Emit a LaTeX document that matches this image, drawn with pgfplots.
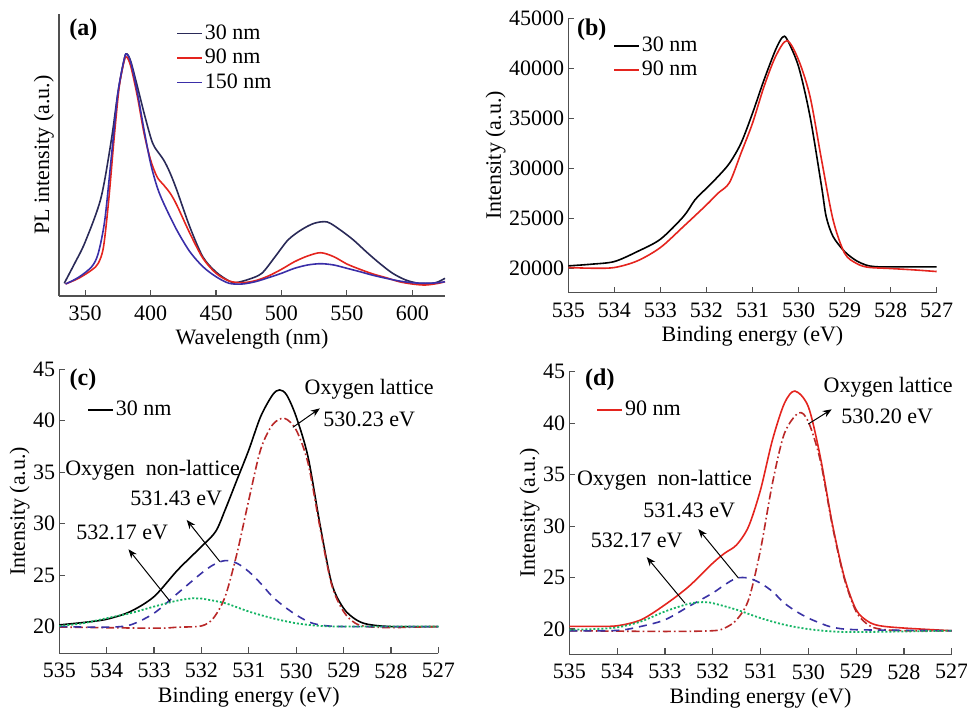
\documentclass[border=0pt]{standalone}
\usepackage{fontspec}
\setmainfont{Liberation Serif}
\usepackage{pgfplots}
\pgfplotsset{compat=1.18}
\usetikzlibrary{arrows.meta}

\definecolor{axgray}{RGB}{80,80,80}
\definecolor{navy30}{RGB}{42,42,88}
\definecolor{red90}{RGB}{228,36,30}
\definecolor{blue150}{RGB}{58,46,168}
\definecolor{fitred}{RGB}{185,40,40}
\definecolor{fitblue}{RGB}{58,50,165}
\definecolor{fitgreen}{RGB}{20,180,100}

\newcommand{\lbl}{\fontsize{11}{12}\selectfont}

\pgfplotsset{
  panel/.style={
    scale only axis, anchor=south west,
    axis x line*=bottom, axis y line*=left,
    axis line style={axgray, line width=0.7pt, -},
    tick style={axgray, line width=0.6pt},
    tick align=inside, major tick length=3pt,
    tick label style={font=\lbl},
    label style={font=\lbl},
    xticklabel style={yshift=-1.5pt},
    yticklabel style={xshift=1.5pt},
    xlabel shift=-2.5pt,
    /pgf/number format/assume math mode=true,
    /pgf/number format/1000 sep={},
    scaled ticks=false,
    clip=false,
    legend cell align=left,
    legend style={draw=none, fill=none, font=\lbl, inner sep=0pt, anchor=north west,
      nodes={inner sep=1pt, text height=8pt, text depth=2.2pt}},
    legend image code/.code={\draw[#1] (0pt,0pt) -- (12.5pt,0pt);},
  },
  xps/.style={panel, x dir=reverse, xmin=527, xmax=535, xtick={527,...,535},
    ylabel shift=-5pt,
    xlabel={Binding energy (eV)}, ylabel={Intensity (a.u.)}},
}

\begin{document}
\begin{tikzpicture}
\useasboundingbox (0,0) rectangle (483.5pt,353.5pt);

% (a) PL spectra
\begin{axis}[panel, at={(29.5pt,205.5pt)}, width=193pt, height=141pt,
  xmin=330, xmax=625, ymin=0, ymax=282, xtick={350,400,...,600}, ytick=\empty,
  ylabel shift=-1pt,
  xlabel={Wavelength (nm)}, ylabel={PL intensity (a.u.)},
  legend style={at={(0.303,0.975)}}]
\addplot[navy30, line width=0.8pt, smooth] coordinates {
(334,12.7)(342,32.7)(350,54)(362,97.7)(370,156)(375,203)(380,237.7)(382,242)(385,234)
(390,209)(395,183)(400,159)(403,149)(410,136)(415,122.7)(420,106)(430,69)(440,39)
(450,24)(460,15)(465,13.3)(475,16.7)(485,22.7)(495,39)(505,56)(515,66)(525,72.7)
(535,74)(545,66)(555,56)(565,44)(575,32.7)(585,22.7)(595,16)(605,12.7)(615,12.7)
(620,14.3)(625,17.7)};
\addlegendentry{30 nm}
\addplot[red90, line width=0.8pt, smooth] coordinates {
(335,12)(345,17.7)(355,26)(360,32.7)(364,49)(368,96)(372,156)(376,209)(380,236)
(382,238.7)(385,229)(390,199)(395,162.7)(400,136)(405,119)(410,111)(415,102.7)
(420,91)(430,62.7)(440,37.7)(450,22.7)(460,15)(470,13.3)(480,15.3)(490,20)
(500,26.7)(510,34.3)(520,40)(530,43.3)(540,39.3)(550,32)(560,26.7)(570,22)
(580,18.3)(590,14.3)(600,12)(610,11)(620,12.7)(625,14.3)};
\addlegendentry{90 nm}
\addplot[blue150, line width=0.8pt, smooth] coordinates {
(335,12)(345,18.7)(355,29.3)(360,42.7)(365,76)(370,139)(375,202.7)(380,237.7)
(382,241.7)(385,232.7)(390,202.7)(395,166)(400,132.7)(405,109)(410,92.7)(420,66)
(430,44.3)(440,29.3)(450,19.3)(460,12.7)(470,12)(480,14.3)(490,18.3)(500,22.7)
(510,27.7)(520,31)(530,32.3)(540,31)(550,27.7)(560,24.3)(570,20.7)(580,17.7)
(590,15)(600,13.3)(610,12.7)(620,13.3)(625,14.3)};
\addlegendentry{150 nm}
\node[font=\bfseries\fontsize{12}{13}\selectfont] at (axis cs:348.7,266) {(a)};
\end{axis}

% (b) XPS O1s
\begin{axis}[xps, at={(284.15pt,207.15pt)}, width=184.2pt, height=137.2pt,
  ymin=17550, ymax=45000, ytick={20000,25000,...,45000},
  legend style={at={(0.121,0.946)}}]
\addplot[black, line width=0.8pt, smooth] coordinates {
(535,20233)(534.5,20400)(534,20667)(533.5,21667)(533,22900)(532.5,25167)
(532.25,26833)(532,28000)(531.75,29167)(531.5,30500)(531.25,32500)(531,35500)
(530.75,38833)(530.5,41833)(530.35,43100)(530.25,42900)(530,40167)(529.75,35167)
(529.5,28167)(529.4,25167)(529.25,23167)(529,21667)(528.75,20767)(528.5,20267)
(528.25,20133)(528,20133)(527,20133)};
\addlegendentry{30 nm}
\addplot[red90, line width=0.8pt, smooth] coordinates {
(535,20067)(534.5,20000)(534,20067)(533.5,20733)(533,22067)(532.5,24167)
(532,26333)(531.75,27500)(531.5,28567)(531.25,31500)(531,34500)(530.75,38167)
(530.5,41167)(530.25,42767)(530,40833)(529.75,37167)(529.5,30833)(529.25,24833)
(529,21500)(528.75,20500)(528.5,20100)(528,19967)(527.5,19833)(527,19667)};
\addlegendentry{90 nm}
\node[font=\bfseries\fontsize{12}{13}\selectfont] at (axis cs:534.49,43830) {(b)};
\end{axis}

% (c) 30 nm fit
\begin{axis}[xps, at={(29.65pt,26.85pt)}, width=189.5pt, height=142pt,
  ymin=17.4, ymax=45, ytick={20,25,...,45},
  legend style={at={(0.073,0.902)}}]
\addplot[black, line width=0.8pt, smooth] coordinates {
(535,20.16)(534.5,20.39)(534,20.71)(533.5,21.46)(533,22.91)(532.5,25.5)(532,27.77)
(531.7,29.23)(531.5,31.33)(531.25,34.25)(531,37.16)(530.75,40.4)(530.5,42.5)
(530.35,43.0)(530.2,42.5)(530,40.4)(529.75,36.5)(529.5,30.0)(529.25,24.2)
(529,21.78)(528.75,20.71)(528.5,20.23)(528,20)(527,20)};
\addlegendentry{30 nm}
\addplot[fitred, line width=0.8pt, smooth, dash pattern=on 4pt off 1.5pt on 0.8pt off 1.5pt] coordinates {
(535,19.95)(533,19.84)(532.5,19.94)(532,20.06)(531.75,20.8)(531.5,22.9)(531.25,27.1)
(531,32.3)(530.75,37.2)(530.5,39.6)(530.25,40.24)(530,39.1)(529.75,35.9)(529.5,29.7)
(529.25,24.05)(529,21.46)(528.75,20.32)(528.5,20)(528,19.9)(527,20)};
\addplot[fitblue, line width=0.8pt, smooth, dash pattern=on 4pt off 3pt] coordinates {
(535,20)(534,19.94)(533.5,20.16)(533,21.3)(532.5,23.24)(532,25.18)(531.75,25.99)
(531.5,26.41)(531.25,26.15)(531,25.34)(530.75,24.2)(530.5,22.9)(530.25,21.94)
(530,21.13)(529.75,20.49)(529.5,20.16)(529,20)(527,20)};
\addplot[fitgreen, line width=0.9pt, smooth, dash pattern=on 1pt off 1pt] coordinates {
(535,20.06)(534.5,20.32)(534,20.81)(533.5,21.3)(533,21.94)(532.5,22.53)(532.17,22.75)
(532,22.72)(531.5,22.27)(531,21.46)(530.5,20.81)(530,20.32)(529.5,20.06)(529,20)(527,20)};
\node[font=\bfseries\fontsize{12}{13}\selectfont] at (axis cs:534.5,43.95) {(c)};
\node[font=\lbl] at (axis cs:528.46,43.08) {Oxygen lattice};
\node[font=\lbl] at (axis cs:528.46,40.17) {530.23 eV};
\node[font=\lbl] at (axis cs:533.03,35.21) {Oxygen~~non-lattice};
\node[font=\lbl] at (axis cs:532.53,32.5) {531.43 eV};
\node[font=\lbl] at (axis cs:533.67,29.13) {532.17 eV};
\draw[-{Stealth[length=4.5pt,width=3.5pt]}, line width=0.5pt] (axis cs:530.07,39.36) -- (axis cs:529.50,41.2);
\draw[-{Stealth[length=4.5pt,width=3.5pt]}, line width=0.5pt] (axis cs:531.61,26.31) -- (axis cs:532.31,30.36);
\draw[-{Stealth[length=4.5pt,width=3.5pt]}, line width=0.5pt] (axis cs:532.66,22.43) -- (axis cs:533.54,27.51);
\end{axis}

% (d) 90 nm fit
\begin{axis}[xps, at={(284.65pt,26.35pt)}, width=191.2pt, height=141.3pt,
  ymin=17.55, ymax=45, ytick={20,25,...,45},
  legend style={at={(0.07,0.91)}}]
\addplot[red90, line width=0.8pt, smooth] coordinates {
(535,20.26)(534.5,20.26)(534,20.32)(533.5,20.9)(533,22.36)(532.5,24.14)(532,26.4)
(531.75,27.37)(531.5,28.18)(531.25,29.96)(531,33.52)(530.75,38.37)(530.5,41.93)
(530.28,43.12)(530,41.6)(529.75,36.75)(529.5,30.28)(529.25,25.1)(529,21.88)
(528.75,20.74)(528.5,20.32)(528,20.1)(527,19.84)};
\addlegendentry{90 nm}
\addplot[fitred, line width=0.8pt, smooth, dash pattern=on 4pt off 1.5pt on 0.8pt off 1.5pt] coordinates {
(535,19.84)(533,19.77)(532,19.84)(531.75,20.1)(531.5,20.9)(531.25,22.85)(531,27.7)
(530.75,34.17)(530.5,39.0)(530.2,41.0)(530,40.15)(529.75,36.4)(529.5,30.12)
(529.25,24.95)(529,21.71)(528.75,20.42)(528.5,20)(528,19.84)(527,19.84)};
\addplot[fitblue, line width=0.8pt, smooth, dash pattern=on 4pt off 3pt] coordinates {
(535,19.84)(534,19.87)(533.5,20.26)(533,20.9)(532.5,22.2)(532,23.5)(531.75,24.3)
(531.5,24.95)(531.25,24.95)(531,24.46)(530.75,23.65)(530.5,22.52)(530.25,21.71)
(530,21.07)(529.75,20.58)(529.5,20.19)(529,19.94)(527,19.84)};
\addplot[fitgreen, line width=0.9pt, smooth, dash pattern=on 1pt off 1pt] coordinates {
(535,19.94)(534.5,20)(534,20.16)(533.5,20.74)(533,21.71)(532.5,22.46)(532.2,22.62)
(532,22.52)(531.5,21.88)(531,21.07)(530.5,20.42)(530,20)(529.5,19.77)(529,19.71)
(528,19.77)(527,19.84)};
\node[font=\bfseries\fontsize{12}{13}\selectfont] at (axis cs:534.36,44.26) {(d)};
\node[font=\lbl] at (axis cs:528.33,43.49) {Oxygen lattice};
\node[font=\lbl] at (axis cs:528.35,40.63) {530.20 eV};
\node[font=\lbl] at (axis cs:533.01,34.49) {Oxygen~~non-lattice};
\node[font=\lbl] at (axis cs:532.49,31.51) {531.43 eV};
\node[font=\lbl] at (axis cs:533.59,28.6) {532.17 eV};
\draw[-{Stealth[length=4.5pt,width=3.5pt]}, line width=0.5pt] (axis cs:530.0,39.92) -- (axis cs:529.51,41.35);
\draw[-{Stealth[length=4.5pt,width=3.5pt]}, line width=0.5pt] (axis cs:531.46,24.95) -- (axis cs:532.30,29.71);
\draw[-{Stealth[length=4.5pt,width=3.5pt]}, line width=0.5pt] (axis cs:532.58,22.52) -- (axis cs:533.38,26.99);
\end{axis}
\end{tikzpicture}
\end{document}
